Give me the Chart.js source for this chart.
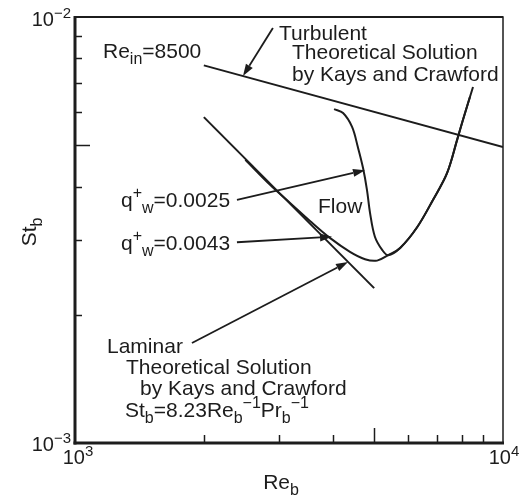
<!DOCTYPE html>
<html>
<head>
<meta charset="utf-8">
<script src="https://cdn.jsdelivr.net/npm/chart.js@4/dist/chart.umd.min.js"></script>
<style>
html, body { margin: 0; padding: 0; background: #fff; }
#wrap { width: 522px; height: 496px; position: relative; }
</style>
</head>
<body>
<div id="wrap"><canvas id="c"></canvas></div>
<script>
// values (Re_b, St_b)
const turbRe = [2000, 10000];
const turbSt = [0.0077, 0.00495];
const lamRe = [2000, 5000];
const lamSt = [0.00582, 0.00231];
const q25Re = [4030, 4230, 4440, 4580, 4710, 4810, 4890, 5020, 5220, 5390, 5750, 6300, 6860, 7400, 7810, 8060, 8370];
const q25St = [0.00608, 0.00595, 0.00552, 0.00495, 0.00442, 0.00393, 0.00347, 0.00305, 0.00284, 0.00276, 0.00287, 0.00321, 0.00372, 0.00430, 0.00514, 0.00573, 0.00649];
const q43Re = [2500, 2860, 3180, 3540, 3940, 4390, 4760, 5080, 5390, 5750, 6300, 6860, 7400, 7810, 8060, 8510];
const q43St = [0.00462, 0.00403, 0.00366, 0.00332, 0.00303, 0.00281, 0.00270, 0.00268, 0.00276, 0.00287, 0.00321, 0.00372, 0.00430, 0.00514, 0.00573, 0.00685];
const xTicks = [2000, 3000, 4000, 5000, 6000, 7000, 8000, 9000];
const yTicks = [0.002, 0.003, 0.004, 0.005, 0.006, 0.007, 0.008, 0.009];
const xLongTick = 5000;
const yLongTick = 0.005;
// arrows: from [Re, St] to [Re, St]
const arrowFrom = [[2900, 0.00942], [2390, 0.00372], [2390, 0.00296], [1876, 0.001717]];
const arrowTo = [[2469, 0.00727], [4760, 0.00437], [3986, 0.00305], [4344, 0.00266]];

const pts = (xs, ys) => xs.map((v, i) => ({ x: v, y: ys[i] }));
const INK = '#1c1c1c';
const FONT = '"Liberation Sans", Arial, Helvetica, sans-serif';

function rich(ctx, parts, x, y, size, align) {
  // parts: [text, kind] kind: n | sub | sup
  const sz = k => (k === 'n' ? size : Math.round(size * 0.76));
  let w = 0;
  parts.forEach(([t, k]) => { ctx.font = sz(k) + 'px ' + FONT; w += ctx.measureText(t).width; });
  let cx = align === 'right' ? x - w : align === 'center' ? x - w / 2 : x;
  ctx.textAlign = 'left';
  ctx.textBaseline = 'alphabetic';
  parts.forEach(([t, k]) => {
    ctx.font = sz(k) + 'px ' + FONT;
    const dy = k === 'sub' ? size * 0.3 : k === 'sup' ? -size * 0.42 : 0;
    ctx.fillText(t, cx, y + dy);
    cx += ctx.measureText(t).width;
  });
}

const decor = {
  id: 'decor',
  afterDatasetsDraw(chart) {
    const { ctx, chartArea: a, scales: { x, y } } = chart;
    ctx.save();
    ctx.strokeStyle = INK;
    ctx.fillStyle = INK;
    ctx.lineCap = 'butt';
    const seg = (x1, y1, x2, y2) => { ctx.beginPath(); ctx.moveTo(x1, y1); ctx.lineTo(x2, y2); ctx.stroke(); };

    // frame
    ctx.lineWidth = 1.5;
    ctx.strokeRect(a.left, a.top, a.right - a.left, a.bottom - a.top);
    ctx.lineWidth = 3;
    seg(a.left, a.top - 1, a.left, a.bottom + 1.5);
    seg(a.left - 1.5, a.bottom, a.right + 1, a.bottom);
    ctx.lineWidth = 2;
    seg(a.left, a.top, a.right, a.top);

    // ticks (inside)
    ctx.lineWidth = 1.5;
    xTicks.forEach(v => {
      const px = Math.round(x.getPixelForValue(v)) + 0.5;
      seg(px, a.bottom, px, a.bottom - (v === xLongTick ? 15 : 8));
    });
    yTicks.forEach(v => {
      const py = Math.round(y.getPixelForValue(v)) + 0.5;
      seg(a.left, py, a.left + (v === yLongTick ? 15 : 7), py);
    });

    // tick labels
    rich(ctx, [['10', 'n'], ['\u22122', 'sup']], a.left - 4, y.getPixelForValue(0.01) + 9, 20, 'right');
    rich(ctx, [['10', 'n'], ['\u22123', 'sup']], a.left - 4, y.getPixelForValue(0.001) + 8, 20, 'right');
    rich(ctx, [['10', 'n'], ['3', 'sup']], x.getPixelForValue(1000) + 3, a.bottom + 21, 20, 'center');
    rich(ctx, [['10', 'n'], ['4', 'sup']], x.getPixelForValue(10000) + 1, a.bottom + 21, 20, 'center');

    // axis titles
    rich(ctx, [['Re', 'n'], ['b', 'sub']], (a.left + a.right) / 2 - 8, 489, 21, 'center');
    ctx.save();
    ctx.translate(36, 232);
    ctx.rotate(-Math.PI / 2);
    rich(ctx, [['St', 'n'], ['b', 'sub']], 0, 0, 21, 'center');
    ctx.restore();

    // annotation text
    const F = 21;
    rich(ctx, [['Re', 'n'], ['in', 'sub'], ['=8500', 'n']], 103, 58, F, 'left');
    rich(ctx, [['Turbulent', 'n']], 279, 40, F, 'left');
    rich(ctx, [['Theoretical Solution', 'n']], 292, 59, F, 'left');
    rich(ctx, [['by Kays and Crawford', 'n']], 292, 81, F, 'left');
    rich(ctx, [['Flow', 'n']], 318, 213, F, 'left');
    rich(ctx, [['q', 'n'], ['+', 'sup'], ['w', 'sub'], ['=0.0025', 'n']], 121, 207, F, 'left');
    rich(ctx, [['q', 'n'], ['+', 'sup'], ['w', 'sub'], ['=0.0043', 'n']], 121, 250, F, 'left');
    rich(ctx, [['Laminar', 'n']], 107, 353, F, 'left');
    rich(ctx, [['Theoretical Solution', 'n']], 126, 374, F, 'left');
    rich(ctx, [['by Kays and Crawford', 'n']], 140, 395, F, 'left');
    rich(ctx, [['St', 'n'], ['b', 'sub'], ['=8.23Re', 'n'], ['b', 'sub'], ['\u22121', 'sup'], ['Pr', 'n'], ['b', 'sub'], ['\u22121', 'sup']], 125, 417, F, 'left');

    // arrows
    ctx.lineWidth = 1.8;
    arrowFrom.forEach((f, i) => {
      const x1 = x.getPixelForValue(f[0]), y1 = y.getPixelForValue(f[1]);
      const x2 = x.getPixelForValue(arrowTo[i][0]), y2 = y.getPixelForValue(arrowTo[i][1]);
      const ang = Math.atan2(y2 - y1, x2 - x1);
      const L = 12, W = 4;
      const bx = x2 - L * Math.cos(ang), by = y2 - L * Math.sin(ang);
      seg(x1, y1, bx, by);
      ctx.beginPath();
      ctx.moveTo(x2, y2);
      ctx.lineTo(bx + W * Math.sin(ang), by - W * Math.cos(ang));
      ctx.lineTo(bx - W * Math.sin(ang), by + W * Math.cos(ang));
      ctx.closePath();
      ctx.fill();
    });
    ctx.restore();
  }
};

const lineStyle = { borderColor: INK, borderWidth: 2, pointRadius: 0, fill: false, showLine: true };

new Chart(document.getElementById('c'), {
  type: 'line',
  data: {
    datasets: [
      { label: 'Turbulent', data: pts(turbRe, turbSt), ...lineStyle, tension: 0 },
      { label: 'Laminar', data: pts(lamRe, lamSt), ...lineStyle, tension: 0 },
      { label: 'q+w=0.0025', data: pts(q25Re, q25St), ...lineStyle, tension: 0.35 },
      { label: 'q+w=0.0043', data: pts(q43Re, q43St), ...lineStyle, tension: 0.35 }
    ]
  },
  options: {
    responsive: true,
    maintainAspectRatio: false,
    animation: false,
    layout: { padding: { left: 75, top: 17, right: 19, bottom: 53 } },
    plugins: { legend: { display: false }, tooltip: { enabled: false } },
    scales: {
      x: { type: 'logarithmic', min: 1000, max: 10000, display: false },
      y: { type: 'logarithmic', min: 0.001, max: 0.01, display: false }
    }
  },
  plugins: [decor]
});
</script>
</body>
</html>
